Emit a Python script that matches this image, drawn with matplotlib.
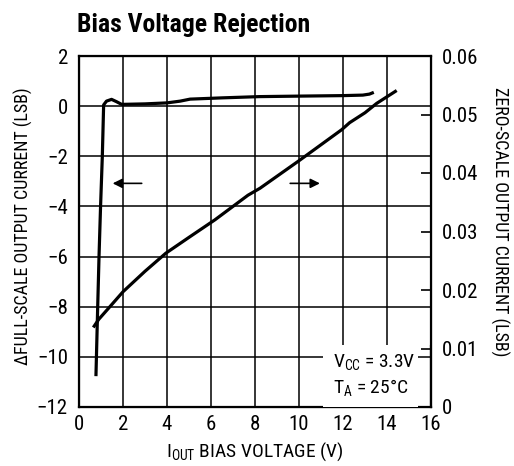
import matplotlib
matplotlib.use("Agg")
import matplotlib.pyplot as plt
from matplotlib.patches import Rectangle

# ---- data ----
fs_x = [0.77, 0.85, 0.91, 0.98, 1.06, 1.12, 1.25, 1.48, 1.7, 1.94, 3.0, 4.0, 4.6, 5.05, 6.5, 8.2, 10.0, 12.0, 12.9, 13.2, 13.4]
fs_y = [-10.77, -8, -6, -4, -2, 0.05, 0.2, 0.27, 0.18, 0.07, 0.09, 0.13, 0.2, 0.28, 0.33, 0.38, 0.4, 0.42, 0.44, 0.48, 0.55]

zs_x = [0.65, 0.9, 1.3, 2.0, 3.0, 3.95, 5.0, 6.18, 7.68, 8.23, 10.0, 11.94, 12.3, 13.0, 13.53, 14.44]
zs_y = [0.0136, 0.0150, 0.0167, 0.0197, 0.0232, 0.0263, 0.0290, 0.0320, 0.0362, 0.0374, 0.0421, 0.0474, 0.0486, 0.0503, 0.0519, 0.0541]

x_ticks = [0, 2, 4, 6, 8, 10, 12, 14, 16]
left_ticks = [2, 0, -2, -4, -6, -8, -10, -12]
right_ticks = [0, 0.01, 0.02, 0.03, 0.04, 0.05, 0.06]
right_labels = ["0", "0.01", "0.02", "0.03", "0.04", "0.05", "0.06"]

title = "Bias Voltage Rejection"
xlabel = r"I$_{\mathregular{OUT}}$ BIAS VOLTAGE (V)"
ylabel_left = "\u2206FULL-SCALE OUTPUT CURRENT (LSB)"
ylabel_right = "ZERO-SCALE OUTPUT CURRENT (LSB)"
note1 = r"V$_{\mathregular{CC}}$ = 3.3V"
note2 = r"T$_{\mathregular{A}}$ = 25°C"

FONT = ["Liberation Sans Narrow", "Roboto Condensed", "DejaVu Sans"]
plt.rcParams["font.family"] = FONT
plt.rcParams["mathtext.default"] = "regular"

W, H = 514, 466
fig = plt.figure(figsize=(W / 100, H / 100), dpi=100)
L, R, T, B = 79, 431, 56, 407
ax = fig.add_axes([L / W, 1 - B / H, (R - L) / W, (B - T) / H])

ax.set_xlim(0, 16)
ax.set_ylim(-12, 2)
ax.set_xticks(x_ticks)
ax.set_yticks(left_ticks)
ax.set_xticklabels([str(v) for v in x_ticks])
ax.set_yticklabels([str(v).replace("-", "\u2212") for v in left_ticks])
ax.grid(True, color="black", linewidth=1.1)
ax.tick_params(axis="y", length=0, labelsize=15, pad=8)
ax.tick_params(axis="x", length=0, labelsize=15, pad=6)
for s in ax.spines.values():
    s.set_linewidth(1.6)

ax.plot(fs_x, fs_y, color="black", linewidth=2.3, solid_capstyle="butt", zorder=4)

ax2 = ax.twinx()
ax2.set_ylim(0, 0.06)
ax2.set_yticks(right_ticks)
ax2.set_yticklabels(right_labels)
ax2.tick_params(axis="y", direction="in", length=7, width=1.2, labelsize=15, pad=8)
ax2.plot(zs_x, zs_y, color="black", linewidth=2.3, solid_capstyle="butt", zorder=4)

# arrows
ax.annotate("", xy=(1.53, -3.08), xytext=(2.85, -3.08),
            arrowprops=dict(arrowstyle="-|>", color="black", lw=1.2, mutation_scale=14, shrinkA=0, shrinkB=0))
ax.annotate("", xy=(10.95, -3.08), xytext=(9.6, -3.08),
            arrowprops=dict(arrowstyle="-|>", color="black", lw=1.2, mutation_scale=14, shrinkA=0, shrinkB=0))

# white note box
ax2.add_patch(Rectangle(((323 - L) / (R - L), 0), (418 - 323) / (R - L), (B - 345) / (B - T),
                        transform=ax2.transAxes, facecolor="white", edgecolor="none", zorder=5))
ax2.plot([1, 1], [0, (B - 345) / (B - T)], transform=ax2.transAxes, color="black", lw=1.6, zorder=6,
         solid_capstyle="butt")
ax2.text((333 - L) / (R - L), (B - 367) / (B - T), note1, transform=ax2.transAxes,
         fontsize=14, ha="left", va="baseline", zorder=7)
ax2.text((333 - L) / (R - L), (B - 393) / (B - T), note2, transform=ax2.transAxes,
         fontsize=14, ha="left", va="baseline", zorder=7)

# labels
fig.text(255 / W, 1 - 457 / H, xlabel, ha="center", va="baseline", fontsize=14)
fig.text(23 / W, 1 - 226 / H, ylabel_left, ha="center", va="center", rotation=90, fontsize=13)
fig.text(500 / W, 1 - 222 / H, ylabel_right, ha="center", va="center", rotation=-90, fontsize=13)
fig.text(77 / W, 1 - 32 / H, title, ha="left", va="baseline", fontsize=18.5, fontweight="bold")

fig.savefig("out.png", dpi=100)
